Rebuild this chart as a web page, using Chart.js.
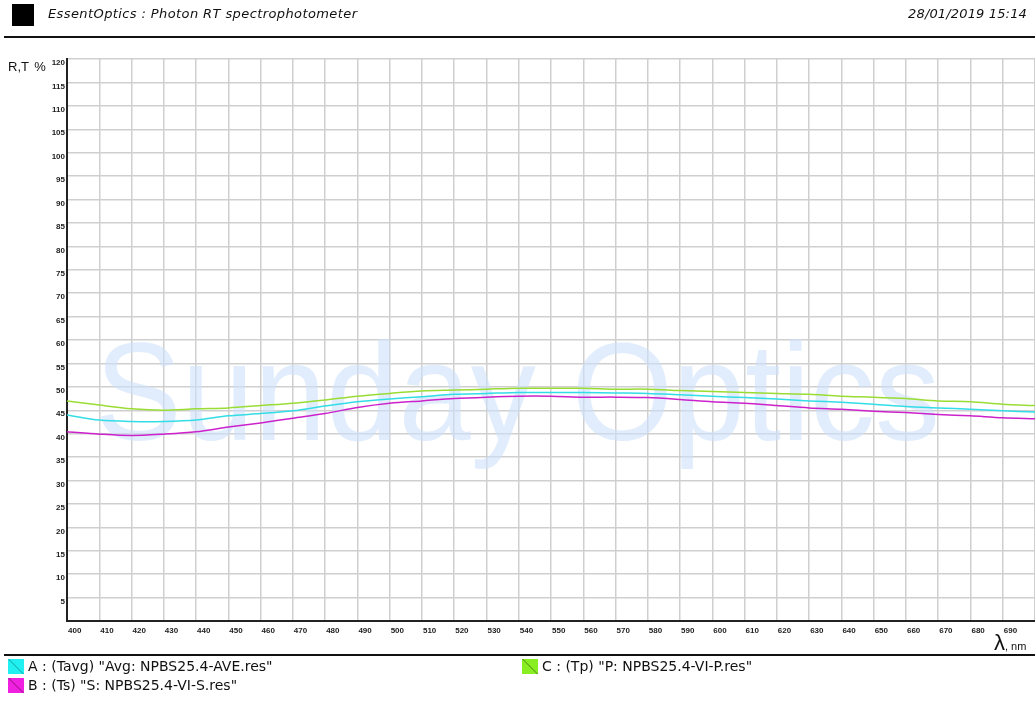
<!DOCTYPE html>
<html>
<head>
<meta charset="utf-8">
<script src="https://cdn.jsdelivr.net/npm/chart.js@4"></script>
<style>
  body { margin: 0; background: #fff; width: 1035px; height: 704px; overflow: hidden; position: relative; font-family: "DejaVu Sans", Verdana, sans-serif; }
  #specChart { position: absolute; left: 0; top: 0; }
  .hdr { position: absolute; top: 6px; font-style: italic; font-size: 13px; color: #111; }
  .box { position: absolute; width: 16px; height: 15px; }
  .leg { position: absolute; font-size: 14px; color: #111; }
  .rule { position: absolute; left: 4px; right: 0; height: 1.5px; background: #111; }
</style>
</head>
<body>
<canvas id="specChart" width="1035" height="704"></canvas>
<div class="box" style="left:12px;top:4px;width:22px;height:22px;background:#000"></div>
<div class="hdr" style="left:48px;letter-spacing:0.4px">EssentOptics : Photon RT spectrophotometer</div>
<div class="hdr" style="right:8px;letter-spacing:0.15px">28/01/2019 15:14</div>
<div class="rule" style="top:36px"></div>
<div style="position:absolute;left:8px;top:59px;font-family:'Liberation Sans',Arial;font-size:13px;word-spacing:2px;color:#111">R,T %</div>
<div style="position:absolute;left:994px;top:630px;color:#111;font-family:'Liberation Sans',Arial"><span style="font-size:22px">λ</span><span style="font-size:11px">, nm</span></div>
<div class="rule" style="top:654px"></div>
<div class="box" style="left:8px;top:659px;background:linear-gradient(45deg,#22f0f0 47%,#0a9a9a 50%,#22f0f0 53%)"></div>
<div class="leg" style="left:28px;top:658px">A : (Tavg) "Avg: NPBS25.4-AVE.res"</div>
<div class="box" style="left:8px;top:678px;background:linear-gradient(45deg,#f020e0 47%,#801070 50%,#f020e0 53%)"></div>
<div class="leg" style="left:28px;top:677px">B : (Ts) "S: NPBS25.4-VI-S.res"</div>
<div class="box" style="left:522px;top:659px;background:linear-gradient(45deg,#88ee22 47%,#447a10 50%,#88ee22 53%)"></div>
<div class="leg" style="left:542px;top:658px">C : (Tp) "P: NPBS25.4-VI-P.res"</div>
<script>
// wavelengths, nm
const wavelengths = [400, 410, 420, 430, 440, 450, 460, 470, 480, 490, 500, 510, 520, 530, 540, 550,
    560, 570, 580, 590, 600, 610, 620, 630, 640, 650, 660, 670, 680, 690, 700];
// A : Tavg
const tAvg = [44.0, 42.9, 42.6, 42.6, 42.9, 43.8, 44.3, 44.9, 45.9, 46.8, 47.4, 47.9, 48.4, 48.6, 48.8, 48.8,
    48.8, 48.7, 48.6, 48.3, 48.0, 47.7, 47.4, 47.0, 46.7, 46.3, 45.8, 45.5, 45.2, 44.9, 44.6];
// B : Ts
const tS = [40.4, 39.9, 39.6, 39.9, 40.4, 41.4, 42.3, 43.3, 44.3, 45.6, 46.5, 47.0, 47.5, 47.8, 48.0, 48.0,
    47.8, 47.8, 47.7, 47.3, 46.8, 46.5, 46.0, 45.5, 45.2, 44.8, 44.5, 44.1, 43.8, 43.4, 43.2];
// C : Tp
const tP = [47.0, 46.1, 45.3, 45.0, 45.3, 45.5, 46.0, 46.5, 47.2, 48.0, 48.6, 49.1, 49.3, 49.5, 49.7, 49.7,
    49.7, 49.5, 49.5, 49.2, 49.0, 48.8, 48.6, 48.4, 48.0, 47.8, 47.5, 47.0, 46.8, 46.3, 46.0];

const toPoints = arr => arr.map((v, i) => ({ x: wavelengths[i], y: v }));

// big light watermark behind the curves
const watermark = {
    id: 'watermark',
    beforeDatasetsDraw(chart) {
        const ctx = chart.ctx;
        ctx.save();
        ctx.font = '140px "Liberation Sans", Arial, sans-serif';
        const w = ctx.measureText('Sunday Optics').width;
        ctx.translate(95, 440);
        ctx.scale(845 / w, 1);
        ctx.fillStyle = 'rgba(205, 225, 250, 0.6)';
        ctx.fillText('Sunday Optics', 0, 0);
        ctx.restore();
    }
};

const tickFont = { family: '"Liberation Sans", Arial', size: 8, weight: 'bold' };

new Chart(document.getElementById('specChart'), {
    type: 'line',
    data: {
        datasets: [
            { label: 'Tp', data: toPoints(tP), borderColor: '#99dd33' },
            { label: 'Tavg', data: toPoints(tAvg), borderColor: '#33dde6' },
            { label: 'Ts', data: toPoints(tS), borderColor: '#cc22cc' }
        ]
    },
    options: {
        responsive: false,
        animation: false,
        layout: { padding: { top: 59, left: 0, right: 0, bottom: 0 } },
        elements: { point: { radius: 0 }, line: { borderWidth: 1.5, tension: 0.3 } },
        plugins: { legend: { display: false }, tooltip: { enabled: false } },
        scales: {
            x: {
                type: 'linear', min: 400, max: 700,
                afterFit: s => { s.height = 83; s.paddingLeft = 0; s.paddingRight = 0; },
                grid: { color: '#cfcfcf', lineWidth: 1.5, drawTicks: false },
                border: { color: '#222', width: 2 },
                ticks: {
                    stepSize: 10, align: 'start', padding: 5, labelOffset: 1, maxRotation: 0,
                    autoSkip: false, color: '#222', font: tickFont,
                    callback: v => (v >= 700 ? '' : v)
                }
            },
            y: {
                min: 0, max: 120,
                afterFit: s => { s.width = 67; s.paddingTop = 0; s.paddingBottom = 0; },
                grid: { color: '#cfcfcf', lineWidth: 1.5, drawTicks: false },
                border: { color: '#222', width: 2 },
                ticks: {
                    stepSize: 5, padding: 2, labelOffset: 4, autoSkip: false, color: '#222', font: tickFont,
                    callback: v => (v === 0 ? '' : v)
                }
            }
        }
    },
    plugins: [watermark]
});
</script>
</body>
</html>
